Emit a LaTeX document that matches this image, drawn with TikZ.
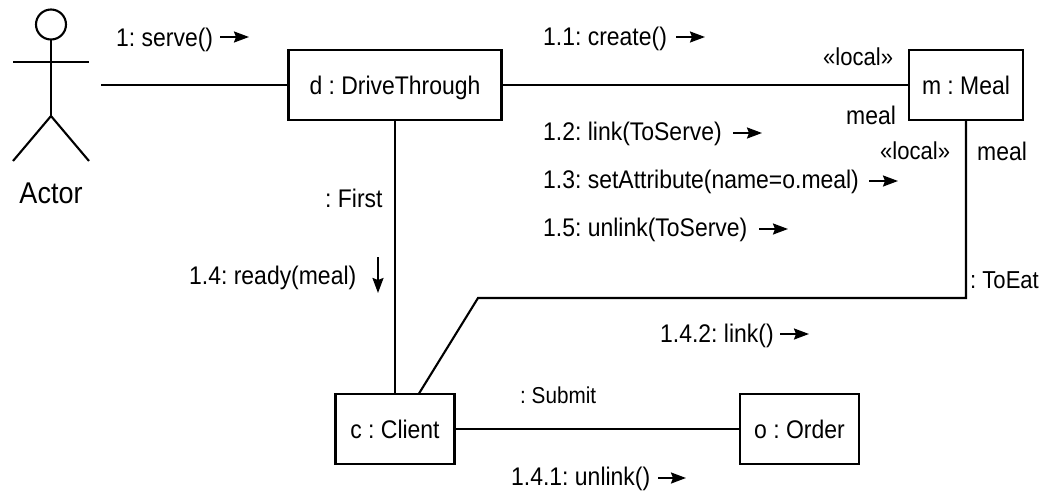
\documentclass[tikz,border=0pt]{standalone}
\usepackage{fontspec}
\setmainfont[FakeStretch=0.9]{Liberation Sans}
\usetikzlibrary{arrows.meta}
\frenchspacing
\begin{document}
\begin{tikzpicture}[x=1pt,y=-1pt,
  box/.style={draw,line width=2.1pt,minimum height=70pt,inner sep=0pt,text height=18pt,text depth=0pt,font=\fontsize{25.5}{28}\selectfont},
  lbl/.style={inner sep=0pt,font=\fontsize{25.5}{28}\selectfont,anchor=west},
  sml/.style={inner sep=0pt,font=\fontsize{24.5}{26}\selectfont,anchor=west},
  smlb/.style={inner sep=0pt,font=\fontsize{23}{26}\selectfont,anchor=west},
  link/.style={line width=2.1pt},
  msg/.style={line width=2pt,-{Stealth[length=15pt,width=11pt,inset=2pt]}}]
\useasboundingbox (0,0) rectangle (1050,499);
\node[box,minimum width=213pt] (d) at (395,85) {d : DriveThrough};
\node[box,minimum width=114pt] (m) at (966,85) {m : Meal};
\node[box,minimum width=119pt] (c) at (395,429) {c : Client};
\node[box,minimum width=119pt] (o) at (799.5,429) {o : Order};
% actor
\coordinate (head) at (51,24.5);
\draw[link] (head) circle (15);
\draw[link] (51,39.5) -- (51,116) coordinate (hip);
\draw[link] (13,62) -- (89,62);
\draw[link] (hip) -- (13,161);
\draw[link] (hip) -- (89,161);
\node[inner sep=0pt,font=\fontsize{30}{32}\selectfont] (actor) at (51,193) {Actor};
\coordinate (af) at (101,85);
\draw[link] (af) -- (d.west);
\draw[link] (d.east) -- (m.west |- d.east);
\draw[link] (d.south) -- (c.north -| d.south);
\draw[link] (c.east) -- (o.west);
\coordinate (b1) at (478,298);
\coordinate (b2) at (966,298);
\draw[link] (419,393.5) -- (b1) -- (b2) -- (966,120);
% labels
\node[lbl] at (116,40) {1: serve()};
\node[lbl] at (543,39) {1.1: create()};
\node[lbl] at (543,134) {1.2: link(ToServe)};
\node[lbl] at (543,182) {1.3: setAttribute(name=o.meal)};
\node[lbl] at (543,230) {1.5: unlink(ToServe)};
\node[lbl] at (189,278) {1.4: ready(meal)};
\node[lbl] at (660,336) {1.4.2: link()};
\node[lbl] at (511,479) {1.4.1: unlink()};
\node[lbl] at (325,198) {: First};
\node[lbl] at (846,115) {meal};
\node[lbl] at (977,151) {meal};
\node[sml] at (823,57) {«local»};
\node[sml] at (880,151) {«local»};
\node[sml] at (970,280) {: ToEat};
\node[smlb] at (520,395) {: Submit};
% arrows
\draw[msg] (220,37) -- (249,37);
\draw[msg] (676,37) -- (705,37);
\draw[msg] (733,133) -- (762,133);
\draw[msg] (869,181) -- (898,181);
\draw[msg] (759,229) -- (788,229);
\draw[msg] (378,257) -- (378,293);
\draw[msg] (780,334) -- (809,334);
\draw[msg] (658,478) -- (686,478);
\end{tikzpicture}
\end{document}
